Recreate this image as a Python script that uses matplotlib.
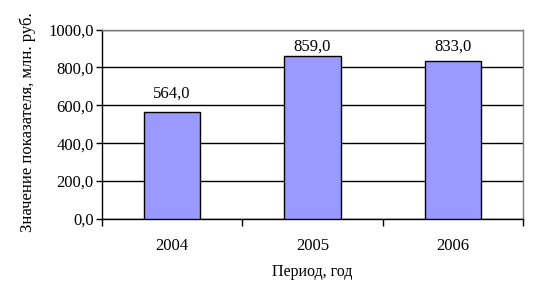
import matplotlib
matplotlib.use("Agg")
import matplotlib.pyplot as plt
import numpy as np

categories = ["2004", "2005", "2006"]
values = [564.0, 859.0, 833.0]
yticks = [0, 200, 400, 600, 800, 1000]
ylabel = "Значение показателя, млн. руб."
xlabel = "Период, год"

plt.rcParams['font.family'] = ['Liberation Serif', 'DejaVu Serif']

fig = plt.figure(figsize=(5.38, 3.02), dpi=100)
W, H = 538, 302
ax = fig.add_axes([102 / W, 1 - 219 / H, (523 - 102) / W, (219 - 29.5) / H])

x = np.arange(len(categories))
ax.bar(x, values, width=0.4, color="#9999FF", edgecolor="black", linewidth=1, zorder=3)

ax.set_xlim(-0.5, len(categories) - 0.5)
ax.set_ylim(0, 1000)
ax.set_yticks(yticks)
ax.set_yticklabels([f"{v:.1f}".replace(".", ",") for v in yticks], fontsize=12)
ax.yaxis.grid(True, color="black", linewidth=1, zorder=0)
ax.set_axisbelow(True)

ax.set_xticks(np.arange(-0.5, len(categories), 1.0))
ax.set_xticklabels([])
ax.set_xticks(x, minor=True)
ax.set_xticklabels(categories, minor=True, fontsize=12)
ax.tick_params(axis='x', which='minor', length=0, pad=14)
ax.tick_params(axis='x', which='major', length=5, width=1, direction='out', color='black')
ax.tick_params(axis='y', length=4, width=1, direction='out', color='black', pad=2)

for s in ['top', 'right']:
    ax.spines[s].set_color('#808080')
    ax.spines[s].set_linewidth(1)
for s in ['left', 'bottom']:
    ax.spines[s].set_color('black')
    ax.spines[s].set_linewidth(1)

for xi, v in zip(x, values):
    ax.text(xi, min(v + 96, 907), f"{v:.1f}".replace(".", ","), ha='center', va='center',
            fontsize=12, zorder=4)

fig.text(28 / W, 1 - 122 / H, ylabel, rotation=90, ha='center', va='center', fontsize=12)
fig.text(312 / W, 1 - 272 / H, xlabel, ha='center', va='center', fontsize=11.5)

fig.savefig("out.png", dpi=100, facecolor='white')
